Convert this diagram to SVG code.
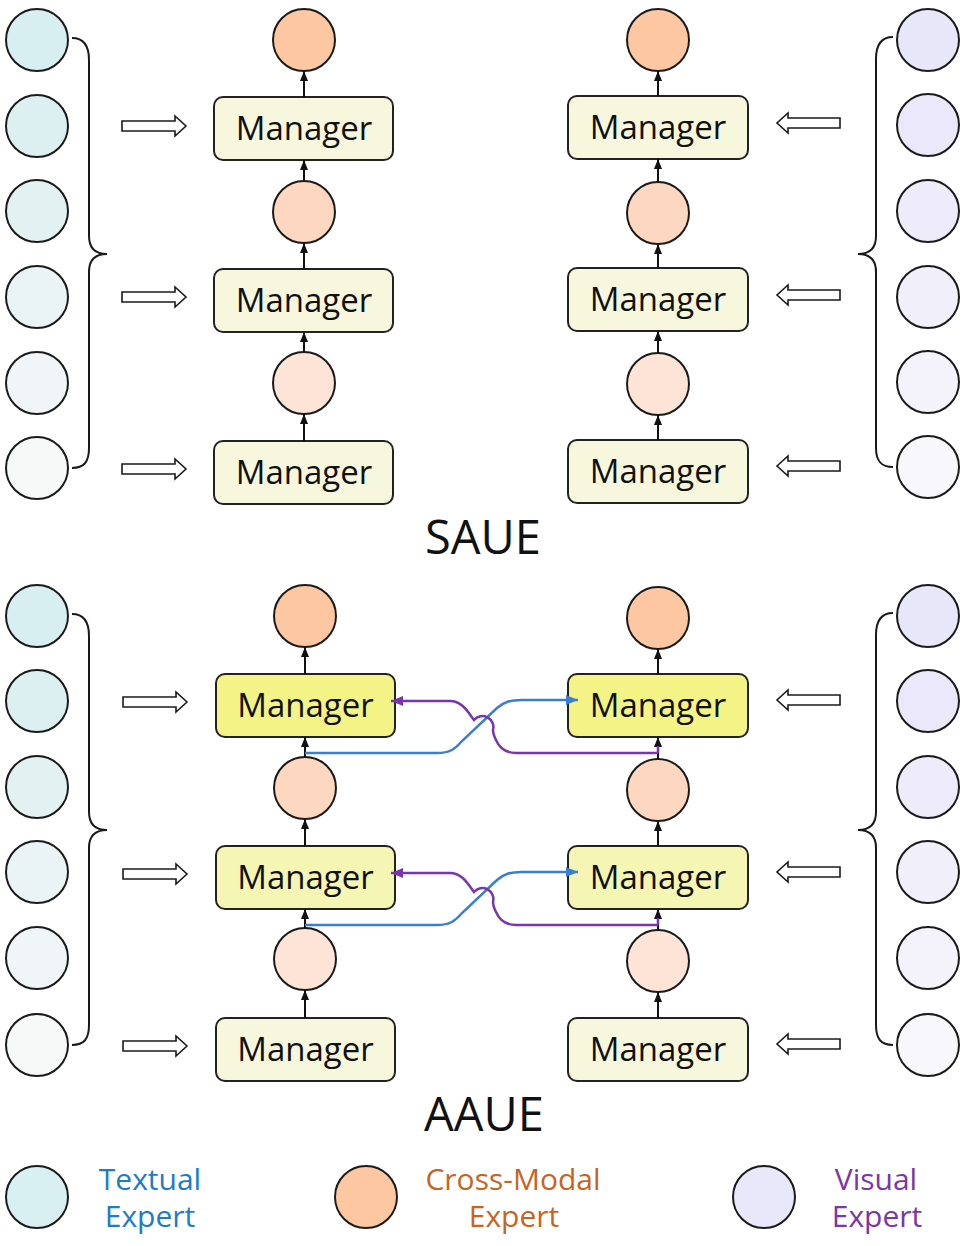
<svg xmlns="http://www.w3.org/2000/svg" width="962" height="1246" viewBox="0 0 962 1246">
<style>
.c{stroke:#1a1a1a;stroke-width:2}
.mg{stroke:#222;stroke-width:2}
.mt{font-family:"Open Sans","Liberation Sans",sans-serif;font-size:33px;fill:#111;text-anchor:middle}
.tt{font-family:"Open Sans","Liberation Sans",sans-serif;font-size:47px;fill:#111;text-anchor:middle}
.lg{font-family:"Open Sans","Liberation Sans",sans-serif;font-size:30px;text-anchor:middle}
.br{fill:none;stroke:#1a1a1a;stroke-width:2}
.ha{fill:#fff;stroke:#1a1a1a;stroke-width:1.6}
.va{stroke:#111;stroke-width:2;marker-end:url(#ab)}
.bl{fill:none;stroke:#3a7fcf;stroke-width:2.5;marker-end:url(#abl)}
.pu{fill:none;stroke:#7a35ad;stroke-width:2.5;marker-end:url(#apu)}
</style>
<defs>
<marker id="ab" markerUnits="userSpaceOnUse" markerWidth="10" markerHeight="8" viewBox="0 0 10 8" refX="10" refY="4" orient="auto"><path d="M0,0 L10,4 L0,8 z" fill="#111"/></marker>
<marker id="abl" markerUnits="userSpaceOnUse" markerWidth="12" markerHeight="10" viewBox="0 0 12 10" refX="12" refY="5" orient="auto"><path d="M0,0 L12,5 L0,10 z" fill="#3a7fcf"/></marker>
<marker id="apu" markerUnits="userSpaceOnUse" markerWidth="12" markerHeight="10" viewBox="0 0 12 10" refX="12" refY="5" orient="auto"><path d="M0,0 L12,5 L0,10 z" fill="#7a35ad"/></marker>
<polygon id="harR" points="122,-5 175,-5 175,-10 186,0 175,10 175,5 122,5"/>
<polygon id="harL" points="840,-5 788,-5 788,-10 777,0 788,10 788,5 840,5"/>
</defs>

<g id="saue-textual">
<circle class="c" cx="37" cy="40" r="31" fill="#d8eff1"/>
<circle class="c" cx="37" cy="126" r="31" fill="#dcf0f2"/>
<circle class="c" cx="37" cy="211" r="31" fill="#e2f2f3"/>
<circle class="c" cx="37" cy="297" r="31" fill="#eaf4f6"/>
<circle class="c" cx="37" cy="383" r="31" fill="#f0f6f8"/>
<circle class="c" cx="37" cy="468" r="31" fill="#f7f9f9"/>
<path class="br" d="M72,38 C84,38 89,46 89,60 L89,236 C89,248 95,254 107,254 C95,254 89,260 89,272 L89,448 C89,462 84,468 72,468"/>
</g>
<g id="saue-visual">
<circle class="c" cx="928" cy="40" r="31" fill="#e8e6f9"/>
<circle class="c" cx="928" cy="125" r="31" fill="#eae8fa"/>
<circle class="c" cx="928" cy="211" r="31" fill="#eeecfa"/>
<circle class="c" cx="928" cy="297" r="31" fill="#f0effa"/>
<circle class="c" cx="928" cy="382" r="31" fill="#f4f3fb"/>
<circle class="c" cx="928" cy="467" r="31" fill="#f8f8fc"/>
<path class="br" d="M893,37 C881,37 876,45 876,59 L876,236 C876,248 870,254 858,254 C870,254 876,260 876,272 L876,448 C876,461 881,467 893,467"/>
</g>
<g id="saue-left-col">
<circle class="c" cx="304" cy="40" r="31" fill="#fdc7a2"/>
<circle class="c" cx="304" cy="212" r="31" fill="#fdd7bf"/>
<circle class="c" cx="304" cy="383" r="31" fill="#fde4d6"/>
<rect class="mg" x="214" y="97" width="179" height="63" rx="9" fill="#f7f7dd"/>
<text class="mt" x="304" y="140">Manager</text>
<rect class="mg" x="214" y="269" width="179" height="63" rx="9" fill="#f7f7dd"/>
<text class="mt" x="304" y="312">Manager</text>
<rect class="mg" x="214" y="441" width="179" height="63" rx="9" fill="#f7f7dd"/>
<text class="mt" x="304" y="484">Manager</text>
</g>
<g id="saue-right-col">
<circle class="c" cx="658" cy="40" r="31" fill="#fdc7a2"/>
<circle class="c" cx="658" cy="213" r="31" fill="#fdd7bf"/>
<circle class="c" cx="658" cy="384" r="31" fill="#fde4d6"/>
<rect class="mg" x="568" y="96" width="180" height="63" rx="9" fill="#f7f7dd"/>
<text class="mt" x="658" y="139">Manager</text>
<rect class="mg" x="568" y="268" width="180" height="63" rx="9" fill="#f7f7dd"/>
<text class="mt" x="658" y="311">Manager</text>
<rect class="mg" x="568" y="440" width="180" height="63" rx="9" fill="#f7f7dd"/>
<text class="mt" x="658" y="483">Manager</text>
</g>
<text class="tt" x="483" y="554">SAUE</text>

<g id="aaue-textual">
<circle class="c" cx="37" cy="616" r="31" fill="#d8eff1"/>
<circle class="c" cx="37" cy="701" r="31" fill="#dcf0f2"/>
<circle class="c" cx="37" cy="787" r="31" fill="#e2f2f3"/>
<circle class="c" cx="37" cy="872" r="31" fill="#eaf4f6"/>
<circle class="c" cx="37" cy="958" r="31" fill="#f0f6f8"/>
<circle class="c" cx="37" cy="1045" r="31" fill="#f7f9f9"/>
<path class="br" d="M72,614 C84,614 89,622 89,636 L89,812 C89,824 95,830 107,830 C95,830 89,836 89,848 L89,1025 C89,1039 84,1045 72,1045"/>
</g>
<g id="aaue-visual">
<circle class="c" cx="928" cy="616" r="31" fill="#e8e6f9"/>
<circle class="c" cx="928" cy="701" r="31" fill="#eae8fa"/>
<circle class="c" cx="928" cy="787" r="31" fill="#eeecfa"/>
<circle class="c" cx="928" cy="872" r="31" fill="#f0effa"/>
<circle class="c" cx="928" cy="958" r="31" fill="#f4f3fb"/>
<circle class="c" cx="928" cy="1045" r="31" fill="#f8f8fc"/>
<path class="br" d="M893,613 C881,613 876,621 876,635 L876,812 C876,824 870,830 858,830 C870,830 876,836 876,848 L876,1025 C876,1039 881,1045 893,1045"/>
</g>
<g id="aaue-left-col">
<circle class="c" cx="305" cy="616" r="31" fill="#fdc7a2"/>
<circle class="c" cx="305" cy="788" r="31" fill="#fdd7bf"/>
<circle class="c" cx="305" cy="959" r="31" fill="#fde4d6"/>
<rect class="mg" x="216" y="674" width="179" height="63" rx="9" fill="#f3f386"/>
<text class="mt" x="305.5" y="717">Manager</text>
<rect class="mg" x="216" y="846" width="179" height="63" rx="9" fill="#f5f5b4"/>
<text class="mt" x="305.5" y="889">Manager</text>
<rect class="mg" x="216" y="1018" width="179" height="63" rx="9" fill="#f7f7dd"/>
<text class="mt" x="305.5" y="1061">Manager</text>
</g>
<g id="aaue-right-col">
<circle class="c" cx="658" cy="618" r="31" fill="#fdc7a2"/>
<circle class="c" cx="658" cy="790" r="31" fill="#fdd7bf"/>
<circle class="c" cx="658" cy="961" r="31" fill="#fde4d6"/>
<rect class="mg" x="568" y="674" width="180" height="63" rx="9" fill="#f3f386"/>
<text class="mt" x="658" y="717">Manager</text>
<rect class="mg" x="568" y="846" width="180" height="63" rx="9" fill="#f5f5b4"/>
<text class="mt" x="658" y="889">Manager</text>
<rect class="mg" x="568" y="1018" width="180" height="63" rx="9" fill="#f7f7dd"/>
<text class="mt" x="658" y="1061">Manager</text>
</g>
<text class="tt" x="484" y="1131">AAUE</text>

<g id="connectors">
<use href="#harR" class="ha" y="126"/>
<use href="#harR" class="ha" y="297"/>
<use href="#harR" class="ha" y="469"/>
<use href="#harL" class="ha" y="123"/>
<use href="#harL" class="ha" y="295"/>
<use href="#harL" class="ha" y="466"/>
<use href="#harR" class="ha" x="1" y="702"/>
<use href="#harR" class="ha" x="1" y="874"/>
<use href="#harR" class="ha" x="1" y="1046"/>
<use href="#harL" class="ha" y="700"/>
<use href="#harL" class="ha" y="872"/>
<use href="#harL" class="ha" y="1044"/>

<line class="va" x1="304" y1="97" x2="304" y2="71"/>
<line class="va" x1="304" y1="181" x2="304" y2="160"/>
<line class="va" x1="304" y1="269" x2="304" y2="243"/>
<line class="va" x1="304" y1="352" x2="304" y2="332"/>
<line class="va" x1="304" y1="441" x2="304" y2="414"/>
<line class="va" x1="658" y1="96" x2="658" y2="71"/>
<line class="va" x1="658" y1="182" x2="658" y2="159"/>
<line class="va" x1="658" y1="268" x2="658" y2="244"/>
<line class="va" x1="658" y1="353" x2="658" y2="331"/>
<line class="va" x1="658" y1="440" x2="658" y2="415"/>

<line class="va" x1="305" y1="674" x2="305" y2="647"/>
<line class="va" x1="305" y1="757" x2="305" y2="737"/>
<line class="va" x1="305" y1="846" x2="305" y2="819"/>
<line class="va" x1="305" y1="928" x2="305" y2="909"/>
<line class="va" x1="305" y1="1018" x2="305" y2="990"/>
<line class="va" x1="658" y1="674" x2="658" y2="649"/>
<line class="va" x1="658" y1="759" x2="658" y2="737"/>
<line class="va" x1="658" y1="846" x2="658" y2="821"/>
<line class="va" x1="658" y1="930" x2="658" y2="909"/>
<line class="va" x1="658" y1="1018" x2="658" y2="992"/>

<path class="bl" d="M305,753 L437,753 C450,753 455,749 462,741 L497,708 C504,702 510,700 522,700 L578,700"/>
<path class="pu" d="M658,753 L658,746 M658,753 L516,753 C505,753 499,747 496,740 C494,736 493,733 493,730 A11,11 0 0 0 474,720 C468,712 462,701 450,701 L391,701"/>
<path class="bl" d="M305,925 L437,925 C450,925 455,921 462,913 L497,880 C504,874 510,872 522,872 L578,872"/>
<path class="pu" d="M658,925 L658,918 M658,925 L516,925 C505,925 499,919 496,912 C494,908 493,905 493,902 A11,11 0 0 0 474,892 C468,884 462,873 450,873 L391,873"/>
</g>

<g id="legend">
<circle class="c" cx="37" cy="1197" r="31" fill="#d9f0f2"/>
<text class="lg" x="150" y="1190" fill="#1c7cc7">Textual</text>
<text class="lg" x="150" y="1227" fill="#1c7cc7">Expert</text>
<circle class="c" cx="366" cy="1197" r="31" fill="#fdc7a2"/>
<text class="lg" x="513" y="1190" fill="#c8641f">Cross-Modal</text>
<text class="lg" x="514" y="1227" fill="#c8641f">Expert</text>
<circle class="c" cx="764" cy="1197" r="31" fill="#e9e7fa"/>
<text class="lg" x="876" y="1190" fill="#7a37a8">Visual</text>
<text class="lg" x="877" y="1227" fill="#7a37a8">Expert</text>
</g>
</svg>
